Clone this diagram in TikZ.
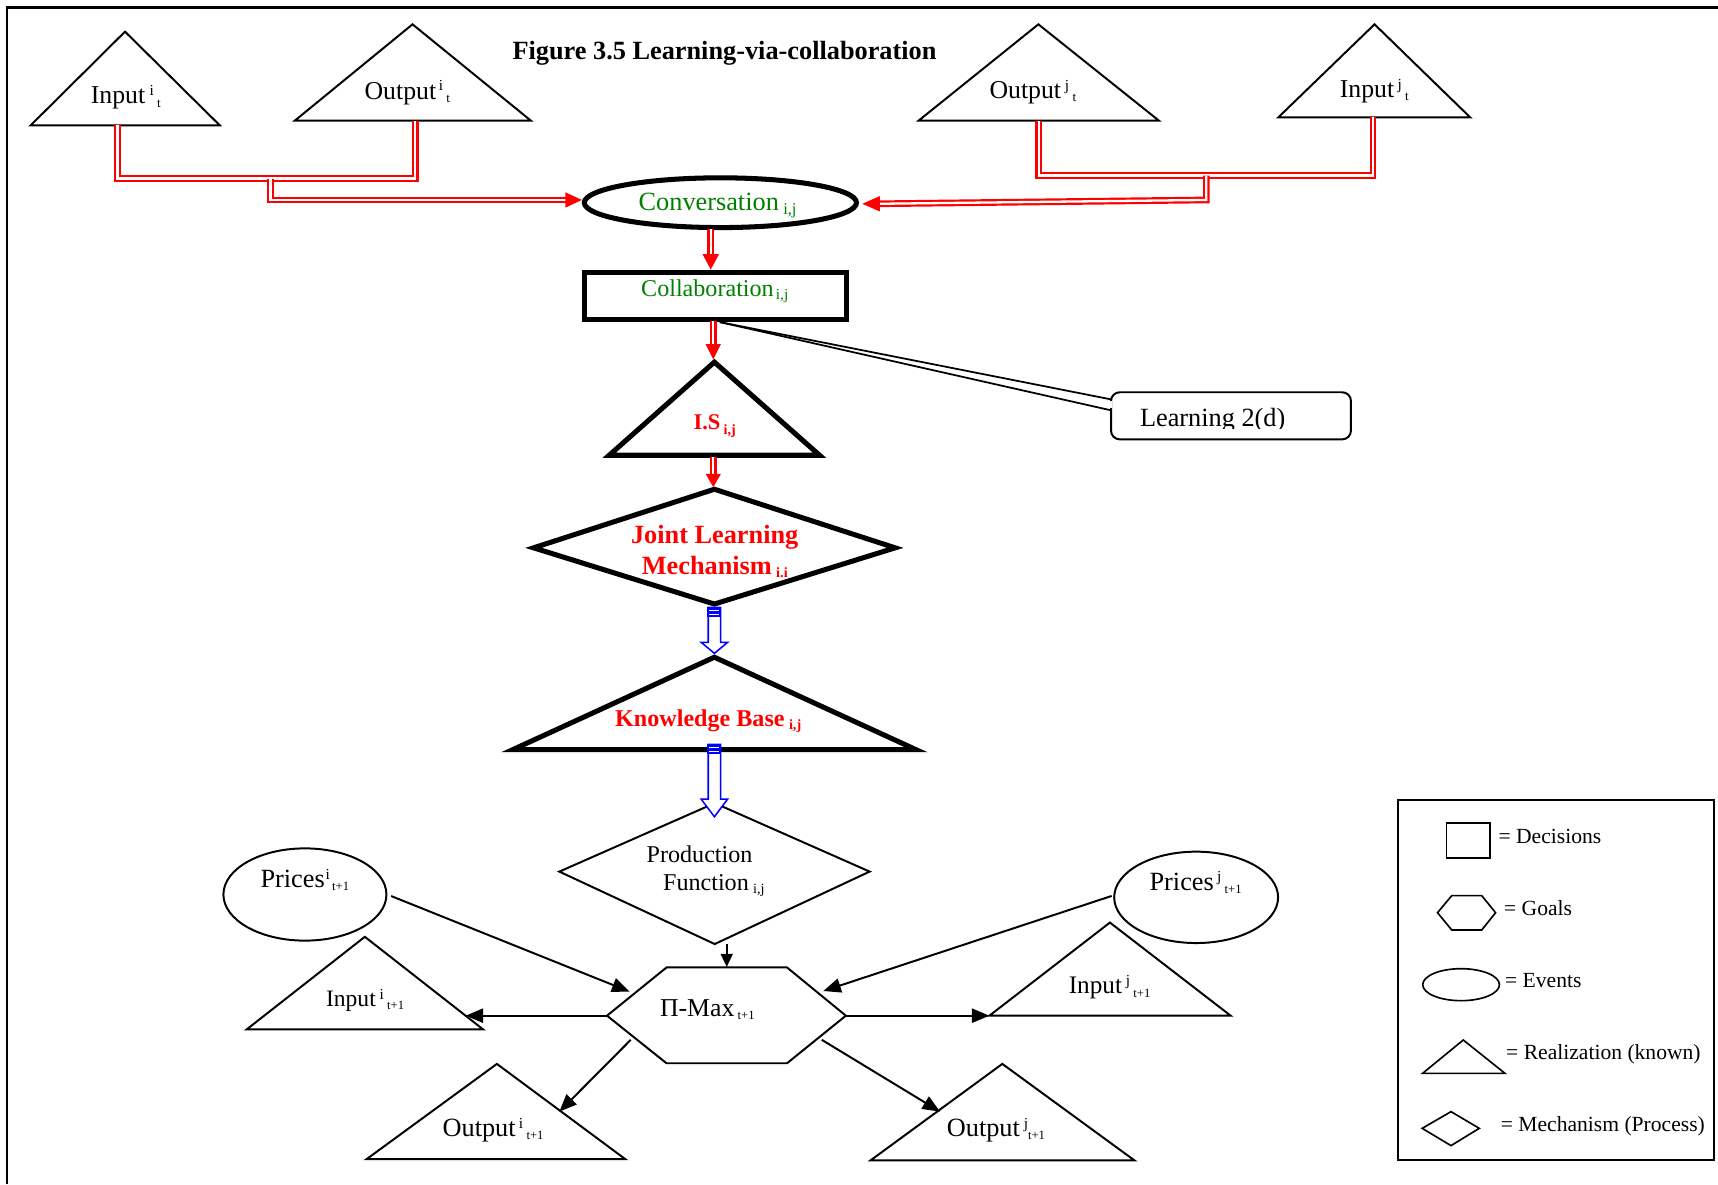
\documentclass[tikz,border=0pt]{standalone}
\usepackage{fontspec}
\setmainfont{Liberation Serif}
\usetikzlibrary{arrows.meta,calc}
\definecolor{txtgreen}{RGB}{0,128,0}
\newcommand\fsz[1]{\fontsize{#1}{#1}\selectfont}
% raised / lowered indices set as separate small text
\newcommand\sps[2][14]{\raisebox{0.32em}{\fsz{#1}#2}}
\newcommand\sbs[2][12]{\raisebox{-0.12em}{\fsz{#1}#2}}
% filled red heads for the double-line connectors (tip coordinate, length, half width)
\newcommand\redtipdown[3]{\fill[red] (#1) -- ([xshift=-#3,yshift=#2]#1) -- ([xshift=#3,yshift=#2]#1) -- cycle;}
\newcommand\redtipright[3]{\fill[red] (#1) -- ([xshift=-#2,yshift=#3]#1) -- ([xshift=-#2,yshift=-#3]#1) -- cycle;}
\newcommand\redtipleft[3]{\fill[red] (#1) -- ([xshift=#2,yshift=#3]#1) -- ([xshift=#2,yshift=-#3]#1) -- cycle;}
% hollow blue block arrow from #1 down to #2, head length #3
\newcommand\blockarrow[3]{%
  \draw[blue, line width=1.4pt, fill=white, line join=miter]
    ([xshift=-5.6pt]#1) -- ([xshift=-5.6pt,yshift=#3]#2) -- ([xshift=-12pt,yshift=#3]#2)
    -- (#2) -- ([xshift=12pt,yshift=#3]#2) -- ([xshift=5.6pt,yshift=#3]#2)
    -- ([xshift=5.6pt]#1) -- cycle;
  \fill[blue] ([xshift=-6.3pt]#1) rectangle ([xshift=6.3pt,yshift=-9pt]#1);
  \draw[white, line width=1pt] ([xshift=-4.5pt,yshift=-3.3pt]#1) -- ([xshift=4.5pt,yshift=-3.3pt]#1);
  \draw[white, line width=1pt] ([xshift=-4.5pt,yshift=-6.5pt]#1) -- ([xshift=4.5pt,yshift=-6.5pt]#1);}

\begin{document}
\begin{tikzpicture}[x=1pt,y=-1pt,
  thinshape/.style={draw=black, line width=1.8pt, line join=miter, fill=white},
  boldshape/.style={draw=black, line width=4.6pt, line join=miter, fill=white},
  legshape/.style={draw=black, line width=1.5pt, line join=miter},
  lbl/.style={inner sep=0pt, anchor=base west, font=\fsz{23.5}},
  leglbl/.style={inner sep=0pt, anchor=base west, font=\fsz{19.7}},
  redline/.style={draw=red, double=white, double distance=2.1pt, line width=2pt, line join=miter},
  blk/.style={draw=black, line width=1.8pt, -{Triangle[length=16pt,width=13pt]}},
  blksmall/.style={draw=black, line width=1.8pt, -{Triangle[length=12pt,width=11pt]}}]
\useasboundingbox (0,0) rectangle (1568,1081);

% frame
\draw[line width=2.2pt] (6.2,1081) -- (6.2,6.7) -- (1568,6.7);

% title
\node[lbl, font=\bfseries\fsz{24}] (title) at (467.6,54.2) {Figure 3.5 Learning-via-collaboration};

% ---------- top row: realizations at t ----------
\coordinate (iit-a) at (114.1,28.9); \coordinate (iit-l) at (28,114.4);   \coordinate (iit-r) at (200.6,114.4);
\coordinate (oit-a) at (376.5,22.2); \coordinate (oit-l) at (269.1,110.1); \coordinate (oit-r) at (484.5,110.1);
\coordinate (ojt-a) at (947.7,22.2); \coordinate (ojt-l) at (838.4,110.1); \coordinate (ojt-r) at (1057.7,110.1);
\coordinate (ijt-a) at (1254.5,22.2);\coordinate (ijt-l) at (1166.7,107.1);\coordinate (ijt-r) at (1341.8,107.1);
\draw[thinshape] (iit-a) -- (iit-l) -- (iit-r) -- cycle;
\draw[thinshape] (oit-a) -- (oit-l) -- (oit-r) -- cycle;
\draw[thinshape] (ojt-a) -- (ojt-l) -- (ojt-r) -- cycle;
\draw[thinshape] (ijt-a) -- (ijt-l) -- (ijt-r) -- cycle;
\node[lbl] (iit) at (82.7,94.9)  {Input\hspace{4pt}\sps{i}\hspace{3pt}\sbs{t}};
\node[lbl] (oit) at (332.6,90.4) {Output\hspace{2.5pt}\sps{i}\hspace{3pt}\sbs{t}};
\node[lbl] (ojt) at (903,89.7)   {Output\hspace{3.5pt}\sps{j}\hspace{3pt}\sbs{t}};
\node[lbl] (ijt) at (1222.7,88.8){Input\hspace{3pt}\sps{j}\hspace{3pt}\sbs{t}};

% ---------- conversation / collaboration chain ----------
\coordinate (conv) at (657.5,185);
\draw[boldshape] (conv) ellipse [x radius=124.2pt, y radius=22.7pt];
\node[lbl, text=txtgreen, font=\fsz{24}] (conv-t) at (582.7,191.7) {Conversation\hspace{4pt}\raisebox{-0.06em}{\sbs[15]{i,j}}};

\coordinate (coll-nw) at (533.5,249); \coordinate (coll-se) at (772.2,292);
\draw[boldshape] (coll-nw) rectangle (coll-se);
\node[lbl, text=txtgreen, font=\fsz{22}] (coll-t) at (585,270.8) {Collaboration\hspace{2pt}\sbs[14]{i,j}};

% information set
\coordinate (is-a) at (652,330.5); \coordinate (is-l) at (556,415.5); \coordinate (is-r) at (748,415.5);
\draw[boldshape] (is-a) -- (is-l) -- (is-r) -- cycle;
\node[lbl, text=red, font=\bfseries\fsz{20.5}] (is-t) at (632.8,391.8) {I.S\hspace{3pt}\raisebox{-0.1em}{\sbs[13]{i,j}}};

% learning callout
\coordinate (lrn-tip) at (657,294);
\draw[thinshape, rounded corners=8pt] (1014,358) rectangle (1233,401);
\draw[black, line width=1.6pt] (lrn-tip) -- (1014,364.5);
\draw[black, line width=1.6pt] (lrn-tip) -- (1014,374.5);
\draw[white, line width=2.6pt] (1014,366.3) -- (1014,372.7);
\begin{scope}
  \clip (1014,358) rectangle (1233,391.5);
  \node[lbl, font=\fsz{24}] (lrn) at (1040.3,389.4) {Learning 2(d)};
\end{scope}

% joint learning mechanism
\coordinate (jl-n) at (652,446.5); \coordinate (jl-e) at (817,500);
\coordinate (jl-s) at (652,551.3); \coordinate (jl-w) at (487,500);
\draw[boldshape] (jl-n) -- (jl-e) -- (jl-s) -- (jl-w) -- cycle;
\node[inner sep=0pt, anchor=base, text=red, font=\bfseries\fsz{24}] (jl-t1) at (652.3,495.9) {Joint Learning};
\node[lbl, text=red, font=\bfseries\fsz{24}] (jl-t2) at (585.6,524.2) {Mechanism\hspace{4pt}\sbs[13]{i.i}};

% knowledge base
\coordinate (kb-a) at (652,599.8); \coordinate (kb-l) at (468,684.2); \coordinate (kb-r) at (836,684.2);
\draw[boldshape] (kb-a) -- (kb-l) -- (kb-r) -- cycle;
\node[lbl, text=red, font=\bfseries\fsz{22}] (kb-t) at (561.3,663.2) {Knowledge Base\hspace{4pt}\sbs[13]{i,j}};

% production function
\coordinate (pf-n) at (652.3,733); \coordinate (pf-e) at (793.7,795.5);
\coordinate (pf-s) at (652.3,861.6); \coordinate (pf-w) at (510.5,795.5);
\draw[thinshape] (pf-n) -- (pf-e) -- (pf-s) -- (pf-w) -- cycle;
\node[lbl, font=\fsz{22}] (pf-t1) at (590,787.3) {Production};
\node[lbl, font=\fsz{22}] (pf-t2) at (605,812.9) {Function\hspace{4pt}\sbs[13]{i,j}};

% profit maximisation goal
\coordinate (pm-w) at (554,927);   \coordinate (pm-nw) at (608.3,883); \coordinate (pm-ne) at (718.3,883);
\coordinate (pm-e) at (772,927);   \coordinate (pm-se) at (718.3,970.4); \coordinate (pm-sw) at (608.3,970.4);
\draw[thinshape] (pm-w) -- (pm-nw) -- (pm-ne) -- (pm-e) -- (pm-se) -- (pm-sw) -- cycle;
\node[lbl] (pm-t) at (602.2,927.9) {Π-Max\hspace{3pt}\sbs[11.5]{t+1}};

% prices
\coordinate (pri) at (278.3,816.4);
\draw[thinshape] (pri) ellipse [x radius=74.4pt, y radius=42.1pt];
\node[lbl, font=\fsz{24}] (pri-t) at (237.6,810.1) {Prices\hspace{0.8pt}\sps{i}\hspace{2pt}\sbs[11.5]{t+1}};
\coordinate (prj) at (1091.7,819);
\draw[thinshape] (prj) ellipse [x radius=74.8pt, y radius=41.7pt];
\node[lbl, font=\fsz{24}] (prj-t) at (1049,812.3) {Prices\hspace{3pt}\sps{j}\hspace{3pt}\sbs[11.5]{t+1}};

% realizations at t+1
\coordinate (ii1-a) at (333,855);    \coordinate (ii1-l) at (225.3,939.4); \coordinate (ii1-r) at (440.8,939.4);
\coordinate (oi1-a) at (453.5,971);  \coordinate (oi1-l) at (334.5,1058);  \coordinate (oi1-r) at (570.8,1058);
\coordinate (ij1-a) at (1013,842);   \coordinate (ij1-l) at (903,927);     \coordinate (ij1-r) at (1123.2,927);
\coordinate (oj1-a) at (914.8,971);  \coordinate (oj1-l) at (794.6,1059);  \coordinate (oj1-r) at (1035.3,1059);
\draw[thinshape] (ii1-a) -- (ii1-l) -- (ii1-r) -- cycle;
\draw[thinshape] (oi1-a) -- (oi1-l) -- (oi1-r) -- cycle;
\draw[thinshape] (ij1-a) -- (ij1-l) -- (ij1-r) -- cycle;
\draw[thinshape] (oj1-a) -- (oj1-l) -- (oj1-r) -- cycle;
\node[lbl, font=\fsz{21.5}] (ii1) at (297.4,918.7) {Input\hspace{3.5pt}\sps{i}\hspace{3pt}\sbs[11.5]{t+1}};
\node[lbl, font=\fsz{24}]   (oi1) at (403.8,1037.4) {Output\hspace{3pt}\sps{i}\hspace{3pt}\sbs[11.5]{t+1}};
\node[lbl, font=\fsz{23}]   (ij1) at (975.3,907.2) {Input\hspace{3.5pt}\sps{j}\hspace{3pt}\sbs[11.5]{t+1}};
\node[lbl, font=\fsz{24}]   (oj1) at (864,1037.4) {Output\hspace{3.5pt}\sps{j}\sbs[11.5]{t+1}};

% ---------- red double connectors ----------
\coordinate (iit-f) at (107.2,114.4); \coordinate (oit-f) at (379,110.1);
\coordinate (ojt-f) at (948,110.1);   \coordinate (ijt-f) at (1253,107.1);
\coordinate (lbus-a) at (107.2,163); \coordinate (lbus-b) at (379,163);
\coordinate (lbus-j) at (247,163);   \coordinate (lbus-k) at (247,182.5);
\coordinate (rbus-a) at (948,160.2); \coordinate (rbus-b) at (1253,160.2);
\coordinate (rbus-j) at (1101,160.2);\coordinate (rbus-k) at (1101,182.5);
\coordinate (conv-w) at (531,182.5); \coordinate (conv-e) at (787,186);
\coordinate (conv-s) at (648.7,209); \coordinate (coll-n) at (648.7,246);
\coordinate (coll-s) at (651,293);   \coordinate (is-n) at (651,328);
\coordinate (is-s) at (651,417);     \coordinate (jl-tip) at (651,444.5);

\draw[redline] (iit-f) -- (lbus-a) -- (lbus-b) -- (oit-f);
\draw[redline] (lbus-j) -- (lbus-k) -- ([xshift=-13pt]conv-w);
\redtipright{conv-w}{15pt}{7pt}
\draw[redline] (ojt-f) -- (rbus-a) -- (rbus-b) -- (ijt-f);
\draw[redline] (rbus-j) -- (rbus-k) -- ([xshift=14pt]conv-e);
\redtipleft{conv-e}{16pt}{7pt}

\draw[redline] (conv-s) -- ([yshift=12pt]coll-n);
\redtipdown{coll-n}{14pt}{7.5pt}
\draw[redline] (coll-s) -- ([yshift=12pt]is-n);
\redtipdown{is-n}{14pt}{7pt}
\draw[redline] (is-s) -- ([yshift=10pt]jl-tip);
\redtipdown{jl-tip}{12pt}{7pt}

% ---------- blue block arrows ----------
\coordinate (jl-o) at (652,554.3); \coordinate (kb-in) at (652,596.3);
\blockarrow{jl-o}{kb-in}{10pt}
\coordinate (kb-o) at (652,679.3); \coordinate (pf-in) at (652,745.4);
\blockarrow{kb-o}{pf-in}{16pt}

% ---------- black arrows around the goal ----------
\coordinate (pf-o) at (663.3,861.6); \coordinate (pm-in-t) at (663.3,882.5);
\draw[blksmall] (pf-o) -- (pm-in-t);
\coordinate (pri-o) at (357,817.8);  \coordinate (pm-in-l) at (574.5,905);
\draw[blk] (pri-o) -- (pm-in-l);
\coordinate (prj-o) at (1014.6,817.7); \coordinate (pm-in-r) at (751.4,904.5);
\draw[blk] (prj-o) -- (pm-in-r);
\coordinate (ii1-in) at (425,927);
\draw[blk] (pm-w) -- (ii1-in);
\draw[blk] (pm-e) -- (ij1-l);
\coordinate (pm-o-l) at (575.7,949); \coordinate (oi1-in) at (510.5,1014.6);
\draw[blk] (pm-o-l) -- (oi1-in);
\coordinate (pm-o-r) at (750,949);   \coordinate (oj1-in) at (858,1014.6);
\draw[blk] (pm-o-r) -- (oj1-in);

% ---------- legend ----------
\draw[line width=1.8pt] (1276.2,730) rectangle (1564.6,1058.7);
\draw[legshape] (1320.3,751.4) rectangle (1359.9,783.3);
\node[leglbl] (lg-dec) at (1367.5,769.7) {= Decisions};
\draw[legshape] (1312,833) -- (1325,817.4) -- (1352.3,817.4) -- (1365,833) -- (1352.3,848.8) -- (1325,848.8) -- cycle;
\node[leglbl] (lg-goal) at (1372.6,836) {= Goals};
\draw[legshape] (1333.5,898.7) ellipse [x radius=35pt, y radius=14.6pt];
\node[leglbl] (lg-ev) at (1373.5,901.1) {= Events};
\draw[legshape] (1335.5,949.2) -- (1298.4,979.6) -- (1373.5,979.6) -- cycle;
\node[leglbl] (lg-real) at (1374.5,966.8) {= Realization (known)};
\draw[legshape] (1298,1029.8) -- (1324.3,1014.6) -- (1350.1,1029.8) -- (1324.3,1045.6) -- cycle;
\node[leglbl] (lg-mech) at (1369.6,1032.8) {= Mechanism (Process)};
\end{tikzpicture}
\end{document}
